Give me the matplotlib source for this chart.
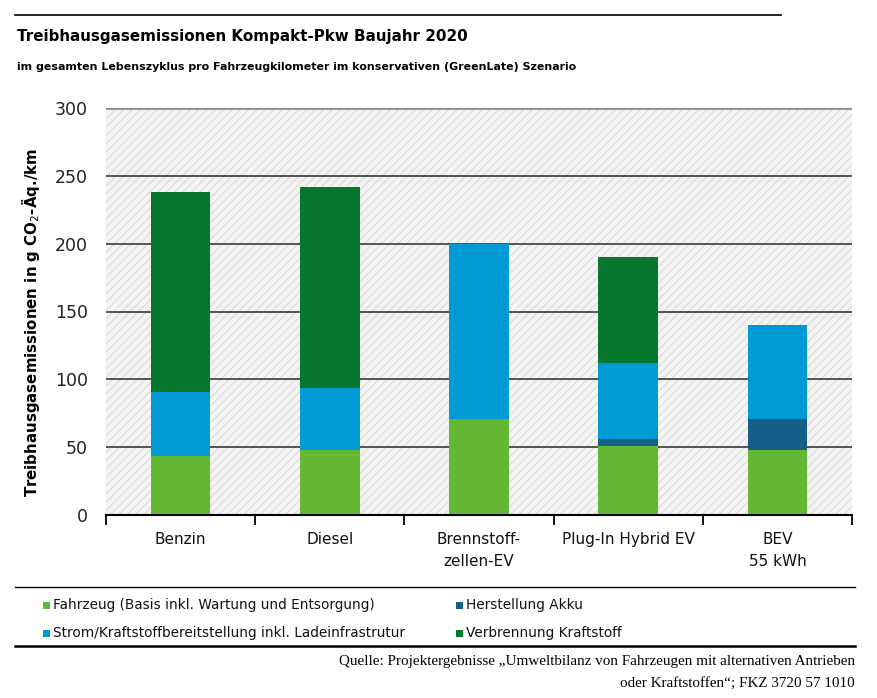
import matplotlib
matplotlib.use("Agg")
import matplotlib.pyplot as plt
from matplotlib.patches import Rectangle
from matplotlib.lines import Line2D
import numpy as np

categories = ["Benzin", "Diesel", "Brennstoff-\nzellen-EV", "Plug-In Hybrid EV", "BEV\n55 kWh"]
fahrzeug = [43.5, 48, 71, 51, 48]
akku = [0, 0, 0, 5, 22.5]
strom = [47, 45.5, 128.5, 56, 69.5]
verbrennung = [147.5, 148, 0, 78.5, 0]
series_names = ["Fahrzeug (Basis inkl. Wartung und Entsorgung)", "Herstellung Akku",
                "Strom/Kraftstoffbereitstellung inkl. Ladeinfrastrutur", "Verbrennung Kraftstoff"]
yticks = [0, 50, 100, 150, 200, 250, 300]

c_fz, c_akku, c_strom, c_verb = "#63b733", "#145e88", "#009ad4", "#06762c"

plt.rcParams['font.family'] = ['DejaVu Sans']
plt.rcParams['hatch.linewidth'] = 0.6

fig = plt.figure(figsize=(8.78, 6.98), dpi=100)
W, H = 878, 698
ax = fig.add_axes([106 / W, 1 - 515 / H, (852 - 106) / W, (515 - 108) / H])

ax.add_patch(Rectangle((0, 0), 1, 1, transform=ax.transAxes, facecolor="#f4f4f4",
                       edgecolor="#d4d4d4", hatch="////", lw=0, zorder=0))

x = np.arange(len(categories))
w = 0.4
b = np.zeros(len(categories))
for vals, col in [(fahrzeug, c_fz), (akku, c_akku), (strom, c_strom), (verbrennung, c_verb)]:
    ax.bar(x, vals, w, bottom=b, color=col, zorder=3, linewidth=0)
    b += np.array(vals)

ax.set_xlim(-0.5, len(categories) - 0.5)
ax.set_ylim(0, 300)
for t in yticks[1:-1]:
    ax.axhline(t, color="#3a3a3a", lw=1.2, zorder=1)
ax.axhline(300, color="#858585", lw=1.8, zorder=1)

for s in ["left", "right", "top"]:
    ax.spines[s].set_visible(False)
ax.spines["bottom"].set_color("black")
ax.spines["bottom"].set_linewidth(1.5)
ax.spines["bottom"].set_zorder(4)

ax.set_yticks(yticks)
ax.set_yticklabels([str(t) for t in yticks], fontsize=12.5, color="#222222")
ax.tick_params(axis="y", length=0, pad=13)
ax.set_xticks(x)
ax.set_xticklabels(categories, fontsize=11, linespacing=1.6, color="#111111")
ax.tick_params(axis="x", which="major", length=0, pad=12)
ax.set_xticks(np.arange(-0.5, len(categories), 1), minor=True)
ax.tick_params(axis="x", which="minor", length=7, width=1.3, direction="out", color="black")

ax.set_ylabel("Treibhausgasemissionen in g CO$_2$-Äq./km", fontsize=10.8, fontweight="bold")
ax.yaxis.set_label_coords(-0.086, 0.474)

# Header
fig.add_artist(Line2D([15 / W, 781 / W], [1 - 15 / H, 1 - 15 / H], color="black", lw=1.2))
fig.text(17 / W, 1 - 37 / H, "Treibhausgasemissionen Kompakt-Pkw Baujahr 2020",
         fontsize=10.9, fontweight="bold", va="center", ha="left")
fig.text(17 / W, 1 - 67 / H,
         "im gesamten Lebenszyklus pro Fahrzeugkilometer im konservativen (GreenLate) Szenario",
         fontsize=7.9, fontweight="bold", va="center", ha="left")

# Legend area
fig.add_artist(Line2D([15 / W, 855 / W], [1 - 587 / H, 1 - 587 / H], color="black", lw=1.0))
fig.add_artist(Line2D([15 / W, 855 / W], [1 - 646 / H, 1 - 646 / H], color="black", lw=1.8))
leg_items = [(43, 605, c_fz, series_names[0]), (456, 605, c_akku, series_names[1]),
             (43, 633, c_strom, series_names[2]), (456, 633, c_verb, series_names[3])]
for lx, ly, col, name in leg_items:
    fig.add_artist(Rectangle((lx / W, 1 - (ly + 3.5) / H), 7 / W, 7 / H, facecolor=col, lw=0))
    fig.text((lx + 10) / W, 1 - ly / H, name, fontsize=9.8, va="center", ha="left", color="#111111")

fig.text(855 / W, 1 - 662 / H,
         "Quelle: Projektergebnisse \u201eUmweltbilanz von Fahrzeugen mit alternativen Antrieben",
         fontsize=10.9, family="Liberation Serif", va="center", ha="right")
fig.text(855 / W, 1 - 683 / H, "oder Kraftstoffen\u201c; FKZ 3720 57 1010",
         fontsize=10.9, family="Liberation Serif", va="center", ha="right")

fig.savefig("out.png", dpi=100)
